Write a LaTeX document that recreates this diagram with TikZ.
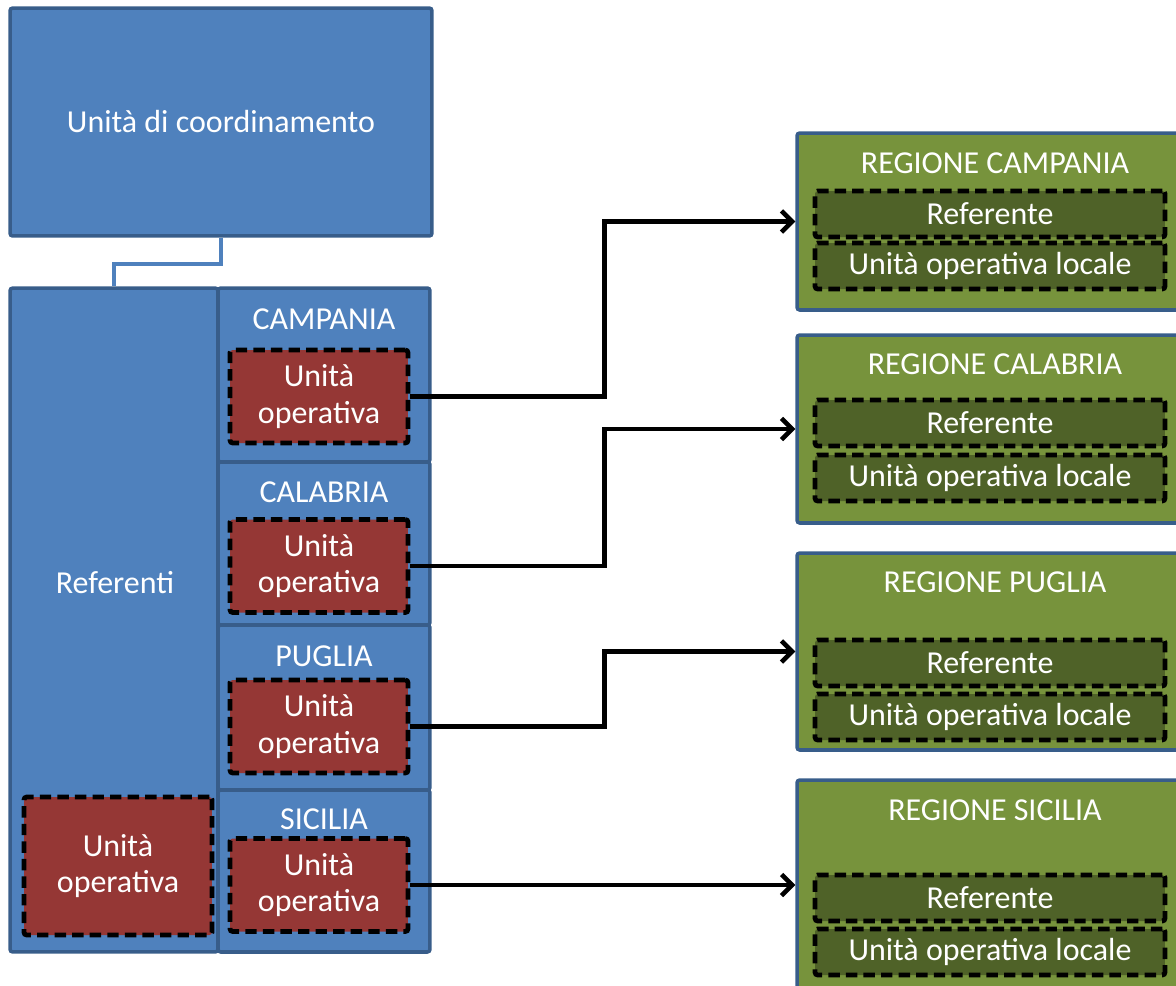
\documentclass[tikz,border=0pt]{standalone}
\usepackage{fontspec}
\setmainfont{Carlito}
\usetikzlibrary{arrows.meta,positioning}

\definecolor{bluefill}{HTML}{4F81BD}
\definecolor{blueline}{HTML}{385D8A}
\definecolor{redfill}{HTML}{953735}
\definecolor{greenfill}{HTML}{77933C}
\definecolor{darkgreen}{HTML}{4F6228}

\begin{document}
\begin{tikzpicture}[x=0.02cm, y=-0.02cm, font=\fontsize{18.2}{20.6}\selectfont, text=white]

            % Define block styles
            \tikzstyle{bluebox} = [rectangle, draw=blueline, fill=bluefill, line width=2pt, rounded corners=1.5pt, inner sep=0pt]
            \tikzstyle{unitbox} = [rectangle, draw=black, fill=redfill, line width=2.7pt, dash pattern=on 6.5pt off 3.5pt, rounded corners=1.5pt, align=center, minimum width=3.56cm, minimum height=1.86cm]
            \tikzstyle{regbox} = [rectangle, draw=blueline, fill=greenfill, line width=2pt, rounded corners=1.5pt, minimum width=8.06cm]
            \tikzstyle{inbox} = [rectangle, draw=black, fill=darkgreen, line width=2.7pt, dash pattern=on 6.5pt off 3.5pt, rounded corners=1.5pt, minimum width=7cm, minimum height=0.92cm]
            \tikzstyle{line} = [draw, line width=2.6pt, -{Straight Barb[length=6pt,width=12pt]}]

            \useasboundingbox (0,0) rectangle (1176,985);
            \clip (0,0) rectangle (1176,985);

            % Nodes
            \node [bluebox, minimum width=8.44cm, minimum height=4.56cm] (coord) at (221,122) {Unità di coordinamento};
            \node [bluebox, minimum width=4.16cm, minimum height=13.28cm] (refcol) at (114,620) {};
            \node (reflabel) at (115,583) {Referenti};
            \node [unitbox, minimum width=3.76cm, minimum height=2.76cm] (uoref) at (118,866) {Unità\\operativa};

            \node [bluebox, minimum width=4.24cm, minimum height=3.48cm] (campania) at (324,375) {};
            \node [bluebox, minimum width=4.24cm, minimum height=3.26cm] (calabria) at (324,543.5) {};
            \node [bluebox, minimum width=4.24cm, minimum height=3.30cm] (puglia) at (324,707.5) {};
            \node [bluebox, minimum width=4.24cm, minimum height=3.24cm] (sicilia) at (324,871) {};
            \node (campanialabel) at (324,319) {CAMPANIA};
            \node (calabrialabel) at (324,492) {CALABRIA};
            \node (puglialabel) at (324,656) {PUGLIA};
            \node (sicilialabel) at (324,819) {SICILIA};
            \node [unitbox] (uocamp) at (319,396.5) {Unità\\operativa};
            \node [unitbox] (uocal) at (319,566) {Unità\\operativa};
            \node [unitbox] (uopug) at (319,726.5) {Unità\\operativa};
            \node [unitbox] (uosic) at (319,885) {Unità\\operativa};

            \node [regbox, minimum height=3.54cm] (regcamp) at (998.5,221.5) {};
            \node [regbox, minimum height=3.76cm] (regcal) at (998.5,429) {};
            \node [regbox, minimum height=3.94cm] (regpug) at (998.5,651.5) {};
            \node [regbox, minimum height=4.6cm] (regsic) at (998.5,895) {};
            \node (regcamplabel) at (995,163) {REGIONE CAMPANIA};
            \node (regcallabel) at (995,364) {REGIONE CALABRIA};
            \node (regpuglabel) at (995,582) {REGIONE PUGLIA};
            \node (regsiclabel) at (995,810) {REGIONE SICILIA};
            \node [inbox] (refcamp) at (990,214) {Referente};
            \node [inbox] (ulocamp) at (990,266) {Unità operativa locale};
            \node [inbox] (refcal) at (990,423) {Referente};
            \node [inbox] (ulocal) at (990,478) {Unità operativa locale};
            \node [inbox] (refpug) at (990,663) {Referente};
            \node [inbox] (ulopug) at (990,717) {Unità operativa locale};
            \node [inbox] (refsic) at (990,898) {Referente};
            \node [inbox] (ulosic) at (990,952) {Unità operativa locale};

            % Arrows
            \draw [bluefill, line width=2.3pt] (coord.south) -- ++(0,26) -| (refcol.north);
            \path [line] (uocamp.east) -- ++(194,0) |- (regcamp.west);
            \path [line] (uocal.east) -- ++(194,0) |- (regcal.west);
            \path [line] (uopug.east) -- ++(194,0) |- (regpug.west);
            \path [line] (uosic.east) -- (uosic.east -| regsic.west);

        \end{tikzpicture}
\end{document}
